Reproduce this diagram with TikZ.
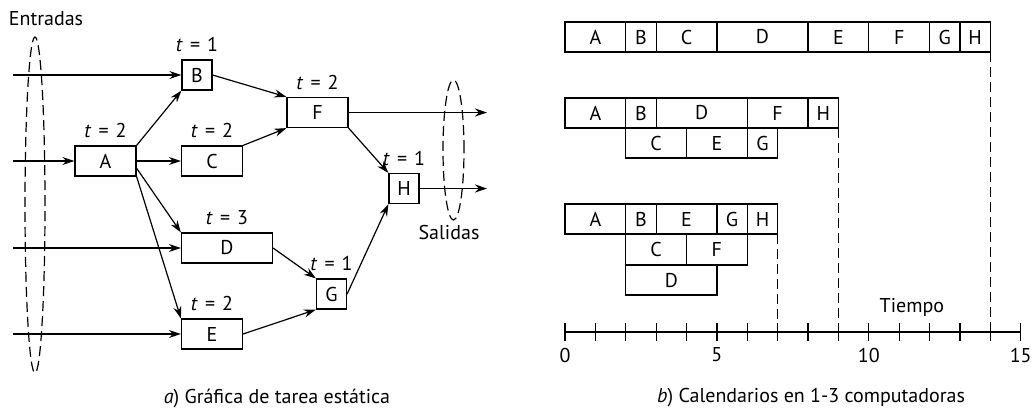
\documentclass[tikz,border=0pt]{standalone}
\usepackage{fontspec}
\setmainfont{PT Sans}
\usetikzlibrary{arrows.meta}

\tikzset{
  task/.style={draw, line width=0.6pt, minimum height=15pt, inner sep=0pt},
  dur/.style={label={[inner sep=0pt, label distance=3.5pt]above:{\textit{t}\hspace{3.5pt}=\hspace{3.5pt}#1}}},
  arr/.style={-{Stealth[length=6pt,width=4pt]}, line width=0.6pt},
  slot/.style={draw, line width=0.6pt},
  fin/.style={line width=0.6pt, dash pattern=on 5pt off 2.5pt}
}

\begin{document}
\begin{tikzpicture}[x=0.5pt, y=-0.5pt, every node/.style={font=\fontsize{10}{12}\selectfont}]
    \useasboundingbox (0,0) rectangle (1035,409);

    % tasks
    \node[task, dur=2, minimum width=30.5pt] (A) at (105.5,161) {A};
    \node[task, dur=1, minimum width=15pt] (B) at (197,75) {B};
    \node[task, dur=2, minimum width=30.5pt] (C) at (212,161) {C};
    \node[task, dur=3, minimum width=45.5pt] (D) at (227,248) {D};
    \node[task, dur=2, minimum width=30.5pt] (E) at (212,334) {E};
    \node[task, dur=2, minimum width=30.5pt] (F) at (317.5,112.5) {F};
    \node[task, dur=1, minimum width=15pt] (G) at (331.5,294) {G};
    \node[task, dur=1, minimum width=15pt] (H) at (404,188.5) {H};

    % inputs and outputs
    \coordinate (inB) at (13,75);
    \coordinate (inA) at (13,161);
    \coordinate (inD) at (13,248);
    \coordinate (inE) at (13,334);
    \coordinate (outF) at (487,112.5);
    \coordinate (outH) at (487,188.5);

    \draw[arr] (inB) -- (B);
    \draw[arr] (inA) -- (A);
    \draw[arr] (inD) -- (D);
    \draw[arr] (inE) -- (E);
    \draw[arr] (F) -- (outF);
    \draw[arr] (H) -- (outH);

    % precedences
    \draw[arr] (A.north east) -- (B.south west);
    \draw[arr] (A) -- (C);
    \draw[arr] (A.-13) -- (D.north west);
    \draw[arr] (A.south east) -- (E.north west);
    \draw[arr] (B.east) -- (F.north west);
    \draw[arr] (C.north east) -- (F.south west);
    \draw[arr] (F.south east) -- (H.north west);
    \draw[arr] (D.east) -- (G.north west);
    \draw[arr] (E.east) -- (G.south west);
    \draw[arr] (G.east) -- (H.south west);

    \draw[fin] (35,205) ellipse [x radius=5pt, y radius=84pt];
    \draw[fin] (453.5,150) ellipse [x radius=5.25pt, y radius=35pt];

    \node (entradas) at (46,19) {Entradas};
    \node (salidas) at (449,232) {Salidas};
    \node (capa) at (277,398) {\textit{a}) Gráfica de tarea estática};

    % schedules
    \begin{scope}[shift={(565,0)}, x=15.19pt]
        \foreach \s/\e/\n in {0/2/A, 2/3/B, 3/5/C, 5/8/D, 8/10/E, 10/12/F, 12/13/G, 13/14/H}
            \draw[slot] (\s,22) rectangle node{\n} (\e,52);

        \foreach \s/\e/\n in {0/2/A, 2/3/B, 3/6/D, 6/8/F, 8/9/H}
            \draw[slot] (\s,98) rectangle node{\n} (\e,128);
        \foreach \s/\e/\n in {2/4/C, 4/6/E, 6/7/G}
            \draw[slot] (\s,128) rectangle node{\n} (\e,158);

        \foreach \s/\e/\n in {0/2/A, 2/3/B, 3/5/E, 5/6/G, 6/7/H}
            \draw[slot] (\s,204) rectangle node{\n} (\e,234);
        \foreach \s/\e/\n in {2/4/C, 4/6/F}
            \draw[slot] (\s,234) rectangle node{\n} (\e,265);
        \draw[slot] (2,265) rectangle node{D} (5,295);

        % time axis
        \draw[line width=0.6pt] (0,332) -- (15,332);
        \foreach \i in {0,...,15}
            \draw[line width=0.6pt] (\i,323) -- (\i,341);
        \foreach \i in {0,5,10,15}
            \node (t\i) at (\i,355) {\i};
        \node (tiempo) at (11.42,307) {Tiempo};

        \draw[fin] (14,52) -- (14,332);
        \draw[fin] (9,128) -- (9,332);
        \draw[fin] (7,234) -- (7,332);

        \node (capb) at (8.1,398) {\textit{b}) Calendarios en 1-3 computadoras};
    \end{scope}
\end{tikzpicture}
\end{document}
